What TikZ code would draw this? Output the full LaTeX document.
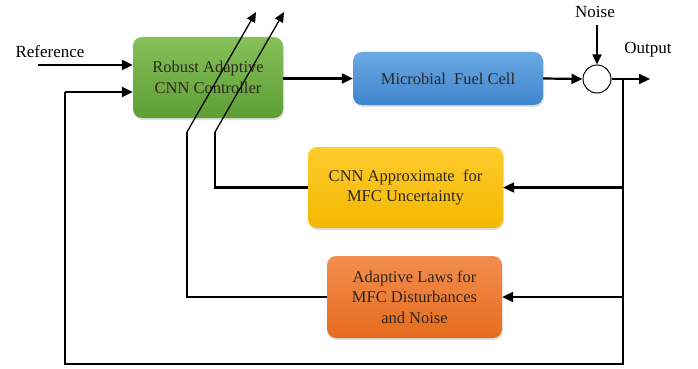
\documentclass[tikz,border=0pt]{standalone}
\usepackage{fontspec}
\setmainfont{Liberation Serif}
\usetikzlibrary{arrows.meta,shadows,calc}
\definecolor{gtop}{HTML}{86C159}
\definecolor{gbot}{HTML}{5E9E35}
\definecolor{btop}{HTML}{6AAAE4}
\definecolor{bbot}{HTML}{3F84CC}
\definecolor{ytop}{HTML}{FFCB2E}
\definecolor{ybot}{HTML}{F2B800}
\definecolor{otop}{HTML}{F28E4E}
\definecolor{obot}{HTML}{E66C1E}
\definecolor{txt}{HTML}{2E2620}
\tikzset{
  blockbox/.style={rectangle, rounded corners=9pt, align=center, text=txt,
    font=\fontsize{16.5}{20.5}\selectfont, inner sep=0pt,
    drop shadow={opacity=0.25, shadow xshift=1pt, shadow yshift=-2pt}},
  lbl/.style={font=\fontsize{17}{19}\selectfont, text=black, inner sep=0pt},
  thick line/.style={line width=2.2pt},
  thin line/.style={line width=1.3pt},
  tip/.style={-{Triangle[length=11pt,width=10pt]}},
  smalltip/.style={-{Triangle[length=10pt,width=9pt]}}
}
\begin{document}
\begin{tikzpicture}[x=1pt,y=-1pt]
\useasboundingbox (0,0) rectangle (698,369);
% blocks
\node[blockbox, top color=gtop, bottom color=gbot, minimum width=150pt, minimum height=81pt] (ctrl) at (208,77.5) {Robust Adaptive\\CNN Controller};
\node[blockbox, top color=btop, bottom color=bbot, minimum width=190pt, minimum height=53pt] (mfc) at (448,78.5) {Microbial\ \ Fuel Cell};
\node[blockbox, top color=ytop, bottom color=ybot, minimum width=195pt, minimum height=81pt] (cnn) at (405.5,187.5) {CNN Approximate\ \ for\\MFC Uncertainty};
\node[blockbox, top color=otop, bottom color=obot, minimum width=175pt, minimum height=82pt] (adp) at (414.5,297) {Adaptive Laws for\\MFC Disturbances\\and Noise};
\node[circle, draw, line width=1pt, minimum size=28pt, inner sep=0pt, fill=white] (sum) at (597,79) {};
% labels
\node[lbl] (ref) at (50,52) {Reference};
\node[lbl] (noise) at (595,12) {Noise};
\node[lbl] (outl) at (648,50) {Output};
% coordinates
\coordinate (refs) at (38,65);
\coordinate (outp) at (650,79);
\coordinate (j) at (623,79);
\coordinate (br) at (623,364);
\coordinate (bl) at (65,364);
\coordinate (fb) at (65,92);
\coordinate (k1) at (215,132);
\coordinate (k2) at (187,132);
\coordinate (a1) at (284,12);
\coordinate (a2) at (256,12);
\coordinate (ns) at (597,25);
% connectors
\draw[thick line, tip] (refs) -- (ctrl.west |- refs);
\draw[thick line, tip] (ctrl.east |- mfc.west) -- (mfc.west);
\draw[thick line, tip] (mfc.east) -- (sum.west);
\draw[line width=1.6pt, smalltip] (ns) -- (sum.north);
\draw[thick line, tip] (sum.east) -- (outp);
\draw[line width=2.6pt] (j) -- (br) -- (bl) -- (fb);
\draw[line width=2.6pt, tip] (fb) -- (ctrl.west |- fb);
\draw[thick line, tip] (j |- cnn.east) -- (cnn.east);
\draw[thick line, tip] (j |- adp.east) -- (adp.east);
\draw[thick line] (cnn.west) -- (k1 |- cnn.west) -- (k1);
\draw[thick line] (adp.west) -- (k2 |- adp.west) -- (k2);
\draw[thin line, smalltip] (k1) -- (a1);
\draw[thin line, smalltip] (k2) -- (a2);
\end{tikzpicture}
\end{document}
